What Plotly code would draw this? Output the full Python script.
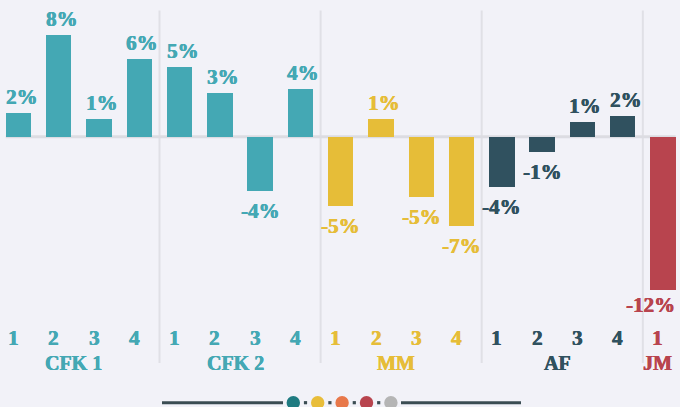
import plotly.graph_objects as go

# ---- data ----
groups = ["CFK 1", "CFK 1", "CFK 1", "CFK 1",
          "CFK 2", "CFK 2", "CFK 2", "CFK 2",
          "MM", "MM", "MM", "MM",
          "AF", "AF", "AF", "AF",
          "JM"]
quarters = ["1", "2", "3", "4", "1", "2", "3", "4", "1", "2", "3", "4",
            "1", "2", "3", "4", "1"]
values = [1.8, 7.8, 1.4, 6.0,
          5.4, 3.4, -4.2, 3.7,
          -5.3, 1.4, -4.6, -6.9,
          -3.9, -1.2, 1.1, 1.6,
          -11.8]
group_names = ["CFK 1", "CFK 2", "MM", "AF", "JM"]

# ---- styles ----
group_colors = {"CFK 1": "#44a8b4", "CFK 2": "#44a8b4", "MM": "#e6bd38",
                "AF": "#30515f", "JM": "#b8444e"}
BG = "#f2f2f8"
FONT = "Liberation Serif"
W, H = 680, 407


def heavy(c):
    return f"0.4px 0 0 {c}, -0.3px 0 0 {c}"


xs = list(range(len(values)))
colors = [group_colors[g] for g in groups]
labels = [f"{round(v):d}%" for v in values]

fig = go.Figure()
fig.add_trace(go.Bar(x=xs, y=values, marker=dict(color=colors, line=dict(width=0)),
                     width=0.63, hoverinfo="skip"))

ann = []
# value labels
for i, (v, lab, c) in enumerate(zip(values, labels, colors)):
    a = dict(x=xs[i], y=v, xref="x", yref="y", text=f"<b>{lab}</b>", showarrow=False,
             font=dict(family=FONT, size=21, color=c, shadow=heavy(c)))
    if v >= 0:
        a.update(yanchor="bottom", yshift=2, xshift=3)
    else:
        a.update(yanchor="top", yshift=-6)
    if i == len(values) - 1 and v < 0:
        a.update(x=0.996, xref="paper", xanchor="right", yshift=-1)
    ann.append(a)

# quarter tick labels
for i, (q, c) in enumerate(zip(quarters, colors)):
    ann.append(dict(x=xs[i], y=1 - 338 / H, xref="x", yref="paper", text=f"<b>{q}</b>",
                    showarrow=False, yanchor="middle", xshift=-5,
                    font=dict(family=FONT, size=21, color=c, shadow=heavy(c))))

# group labels
for g in group_names:
    idx = [i for i, gg in enumerate(groups) if gg == g]
    cx = sum(idx) / len(idx)
    gc = group_colors[g]
    ann.append(dict(x=cx, y=1 - 363 / H, xref="x", yref="paper", text=f"<b>{g}</b>",
                    showarrow=False, yanchor="middle", xshift=-5,
                    font=dict(family=FONT, size=20, color=gc, shadow=heavy(gc))))

shapes = []
# group separators
bounds = []
for i in range(1, len(groups)):
    if groups[i] != groups[i - 1]:
        bounds.append(i - 0.5)
for b in bounds:
    shapes.append(dict(type="line", xref="x", yref="paper", x0=b, x1=b,
                       y0=1 - 363 / H, y1=1 - 10.5 / H,
                       line=dict(color="#e0e0e6", width=2), layer="below"))
# zero line
shapes.append(dict(type="line", xref="x", yref="y", x0=-0.315, x1=len(values) - 1 + 0.315,
                   y0=0, y1=0, line=dict(color="#dcdce2", width=3), layer="below"))

# bottom decoration
ly = 1 - 402.7 / H
line_col = "#3b4d53"
shapes.append(dict(type="line", xref="paper", yref="paper", x0=162 / W, x1=283 / W,
                   y0=ly, y1=ly, line=dict(color=line_col, width=3)))
shapes.append(dict(type="line", xref="paper", yref="paper", x0=401 / W, x1=521 / W,
                   y0=ly, y1=ly, line=dict(color=line_col, width=3)))
dot_cols = ["#1f7b81", "#e8bd3a", "#e8784a", "#b8444e", "#b5b5b5"]
r = 6.7
for k, dc in enumerate(dot_cols):
    cx = 293.3 + k * 24.4
    shapes.append(dict(type="circle", xref="paper", yref="paper",
                       x0=(cx - r) / W, x1=(cx + r) / W,
                       y0=1 - (402.7 + r) / H, y1=1 - (402.7 - r) / H,
                       fillcolor=dc, line=dict(width=0)))
    if k < len(dot_cols) - 1:
        sx = cx + 12.2
        shapes.append(dict(type="rect", xref="paper", yref="paper",
                           x0=(sx - 1.6) / W, x1=(sx + 1.6) / W,
                           y0=1 - (402.7 + 1.6) / H, y1=1 - (402.7 - 1.6) / H,
                           fillcolor=line_col, line=dict(width=0)))

px_per_unit = 13.0
zero_px = 136.7
slot = 40.28
first_px = 18.5
fig.update_layout(
    width=W, height=H, margin=dict(l=0, r=0, t=0, b=0),
    paper_bgcolor=BG, plot_bgcolor=BG, showlegend=False,
    xaxis=dict(range=[-first_px / slot, (W - first_px) / slot], visible=False, fixedrange=True),
    yaxis=dict(range=[-(H - zero_px) / px_per_unit, zero_px / px_per_unit], visible=False,
               fixedrange=True),
    annotations=ann, shapes=shapes, bargap=0,
)
fig.write_html(
    "out.html",
    config={"displayModeBar": False},
    post_script="document.body.style.margin='0';document.body.style.overflow='hidden';"
                "document.body.style.background='" + BG + "';",
)
